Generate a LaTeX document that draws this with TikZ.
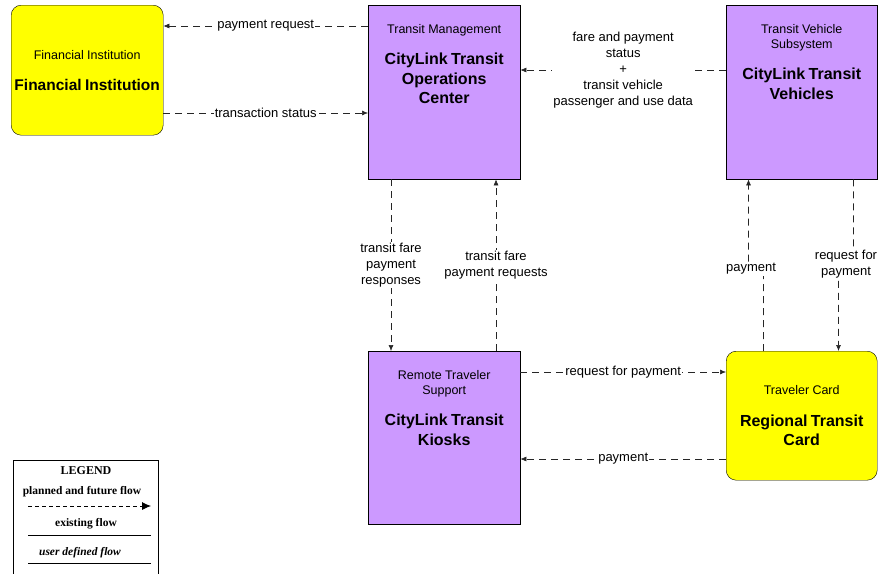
\documentclass[tikz,border=0pt]{standalone}
\usepackage{fontspec}
\setmainfont{Liberation Sans}
\newfontfamily\legendfont{Liberation Serif}
\usetikzlibrary{arrows.meta}

\definecolor{subpurple}{RGB}{204,153,255}
\definecolor{termyellow}{RGB}{255,255,0}

\newcommand{\flowfont}{\fontsize{13}{16}\selectfont}
\newcommand{\smallname}[1]{{\fontsize{12.5}{15}\selectfont #1\par}}
\newcommand{\bigname}[1]{{\fontsize{16}{19.5}\bfseries\selectfont #1\par}}

\begin{document}
\begin{tikzpicture}[x=1pt, y=-1pt,
            purplebox/.style={draw, fill=subpurple, anchor=north west, inner sep=0pt, minimum width=152pt, minimum height=174pt},
            yellowbox/.style={draw, fill=termyellow, rounded corners=10pt, anchor=north west, inner sep=0pt, minimum width=152pt, minimum height=130pt, text width=150pt, align=center},
            boxtitle/.style={anchor=north, text width=150pt, align=center, inner sep=0pt, yshift=-19pt},
            flow/.style={draw=black!85, line width=0.6pt, dash pattern=on 7pt off 5pt, -{Latex[length=6pt,width=5pt]}},
            flowlabel/.style={fill=white, inner sep=1pt, align=center, font=\flowfont},
            legendtext/.style={inner sep=0pt, font=\legendfont\bfseries\fontsize{11.5}{13}\selectfont}
            ]
            \useasboundingbox (0,0) rectangle (880,573);

            % subsystems and terminators
            \node[yellowbox] (fi) at (11,5) {\smallname{Financial Institution}\vspace{12pt}{\fontsize{15.5}{19}\bfseries\selectfont Financial Institution\par}};
            \node[purplebox, label={[boxtitle]north:{\smallname{Transit Management}\vspace{12pt}\bigname{CityLink Transit\\Operations\\Center}}}] (toc) at (368,5) {};
            \node[purplebox, minimum width=151pt, label={[boxtitle]north:{\smallname{Transit Vehicle\\Subsystem}\vspace{12pt}\bigname{CityLink Transit\\Vehicles}}}] (veh) at (726,5) {};
            \node[purplebox, minimum height=173pt, label={[boxtitle]north:{\smallname{Remote Traveler\\Support}\vspace{12pt}\bigname{CityLink Transit\\Kiosks}}}] (kiosk) at (368,351) {};
            \node[yellowbox, minimum width=151pt, minimum height=129pt] (card) at (726,351) {\smallname{Traveler Card}\vspace{12pt}\bigname{Regional Transit\\Card}};

            % flows
            \draw[flow] ([yshift=-21pt]toc.north west) -- node[flowlabel]{payment request} ([yshift=-21pt]fi.north east);
            \draw[flow] ([yshift=-108pt]fi.north east) -- node[flowlabel]{transaction status} ([yshift=-108pt]toc.north west);
            \draw[flow] ([yshift=-65pt]veh.north west) -- node[flowlabel]{fare and payment\\status\\+\\transit vehicle\\passenger and use data} ([yshift=-65pt]toc.north east);
            \draw[flow] ([xshift=23pt]toc.south west) -- node[flowlabel]{transit fare\\payment\\responses} ([xshift=23pt]kiosk.north west);
            \draw[flow] ([xshift=128pt]kiosk.north west) -- node[flowlabel]{transit fare\\payment requests} ([xshift=128pt]toc.south west);
            \draw[flow] ([xshift=37.5pt]card.north west) -- ++(0,-75) -- node[flowlabel, xshift=-5pt]{payment} ++(-15,-14) -- ([xshift=22.5pt]veh.south west);
            \draw[flow] ([xshift=127.5pt]veh.south west) -- ++(0,78) -- node[flowlabel]{request for\\payment} ++(-15,14) -- ([xshift=112.5pt]card.north west);
            \draw[flow] ([yshift=-21pt]kiosk.north east) -- node[flowlabel]{request for payment} ([yshift=-21pt]card.north west);
            \draw[flow] ([yshift=-108pt]card.north west) -- node[flowlabel]{payment} ([yshift=-108pt]kiosk.north east);

            % legend
            \draw (13,580) |- (158,460) -- (158,580);
            \node[legendtext, font=\legendfont\bfseries\fontsize{12}{13}\selectfont] (legtitle) at (86,471) {LEGEND};
            \node[legendtext] (legplanned) at (82,492) {planned and future flow};
            \node[legendtext] (legexisting) at (86,524) {existing flow};
            \node[legendtext, font=\legendfont\bfseries\itshape\fontsize{11.5}{13}\selectfont] (leguser) at (80,553) {user defined flow};
            \coordinate (plannedA) at (28,506);
            \coordinate (plannedB) at (151,506);
            \coordinate (existingA) at (28,535);
            \coordinate (existingB) at (151,535);
            \coordinate (userA) at (28,563);
            \coordinate (userB) at (151,563);
            \draw[thick, dash pattern=on 4pt off 3pt, -{Latex[length=9pt,width=8pt]}] (plannedA) -- (plannedB);
            \draw[thick] (existingA) -- (existingB);
            \draw[thick] (userA) -- (userB);

\end{tikzpicture}
\end{document}
